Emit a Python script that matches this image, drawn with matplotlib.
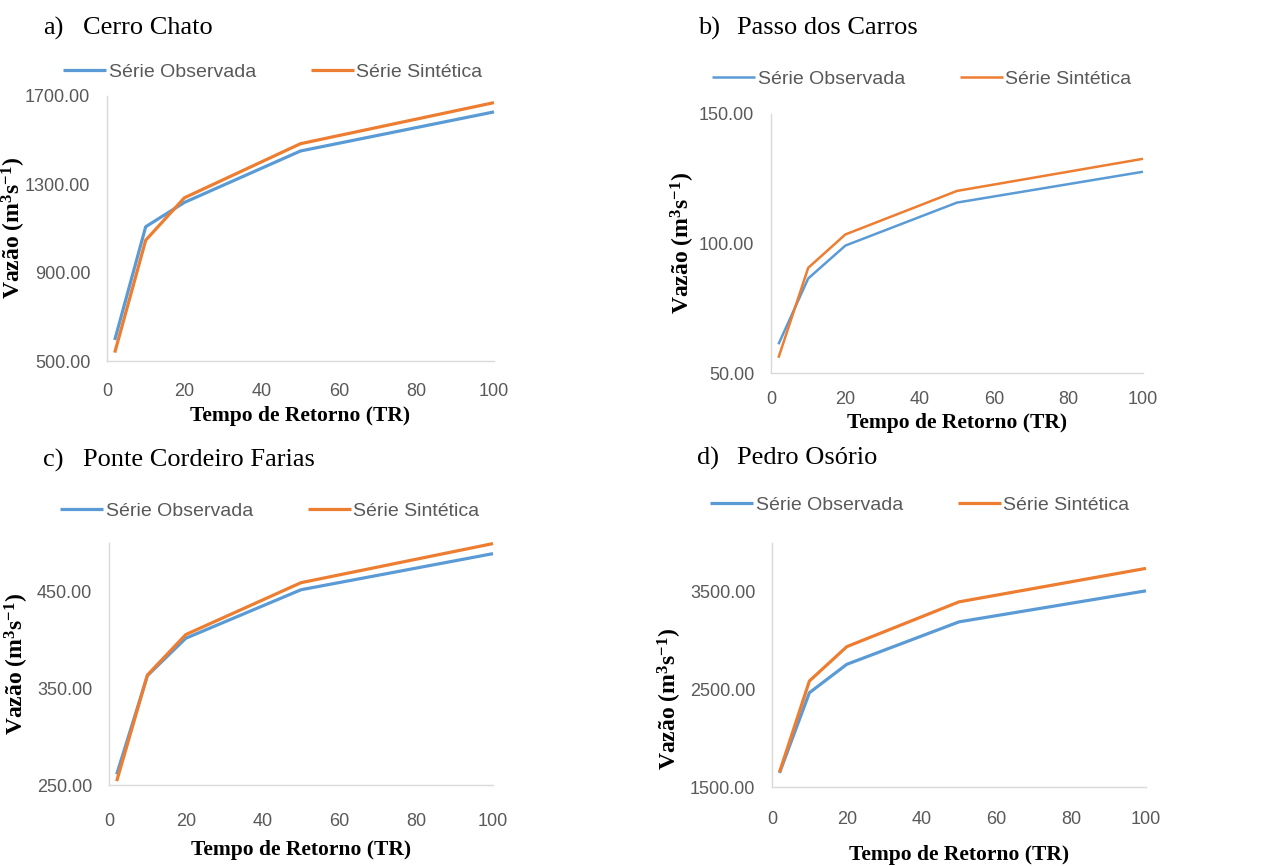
import matplotlib
matplotlib.use('Agg')
import matplotlib.pyplot as plt
from matplotlib import font_manager

# Return period (years)
tr = [2, 10, 20, 50, 100]

# a) Cerro Chato
obs_a = [595, 1108, 1218, 1451, 1628]
sin_a = [538, 1047, 1239, 1484, 1670]
# b) Passo dos Carros
obs_b = [61.1, 86.5, 99.2, 115.8, 127.7]
sin_b = [55.9, 90.6, 103.5, 120.3, 132.7]
# c) Ponte Cordeiro Farias
obs_c = [261, 363, 401.6, 451.7, 489]
sin_c = [254, 363.6, 405.4, 459, 499.4]
# d) Pedro Osório
obs_d = [1644, 2466, 2757, 3192, 3510]
sin_d = [1650, 2586, 2938, 3397, 3740]

letters = ['a)', 'b)', 'c)', 'd)']
stations = ['Cerro Chato', 'Passo dos Carros', 'Ponte Cordeiro Farias', 'Pedro Osório']
series_names = ['Série Observada', 'Série Sintética']
yticks_all = [[500, 900, 1300, 1700], [50, 100, 150], [250, 350, 450], [1500, 2500, 3500]]
ylims = [(500, 1700), (50, 150), (250, 500), (1500, 4000)]
xticks = [0, 20, 40, 60, 80, 100]

names = {f.name for f in font_manager.fontManager.ttflist}
sans = 'Liberation Sans Narrow' if 'Liberation Sans Narrow' in names else 'Liberation Sans'
serif = 'Liberation Serif'

plt.rcParams['mathtext.default'] = 'regular'

W, H = 1280, 866
fig = plt.figure(figsize=(W / 100, H / 100), dpi=100)

def fx(px):
    return px / W

def fy(py):
    return 1 - py / H

# layout in pixels: left, right, top, bottom of plot area
boxes = [(107, 494, 96, 361), (771, 1143, 114, 373), (109, 493, 543, 785), (772, 1146, 543, 787)]
title_pos = [(43, 83, 28), (698, 737, 28), (43, 83, 460), (697, 737, 458)]
legend_pos = [(273, 72), (922, 79), (270, 511), (920, 505)]
ylabel_pos = [(14, 0.5), (683, 0.5), (17, 0.5), (670, 0.36)]
xlabel_top = [45, 40, 55, 58]
xtick_pad = [17, 14, 21, 18]
lws = [2.3, 1.8, 2.3, 2.3]

blue = '#5b9bd5'
orange = '#ed7d31'
grey = '#595959'

data = [(obs_a, sin_a), (obs_b, sin_b), (obs_c, sin_c), (obs_d, sin_d)]

for i, (obs, sin) in enumerate(data):
    l, r, t, b = boxes[i]
    ax = fig.add_axes([fx(l), fy(b), (r - l) / W, (b - t) / H])
    ax.plot(tr, obs, color=blue, lw=lws[i], label=series_names[0], clip_on=False,
            solid_capstyle='butt')
    ax.plot(tr, sin, color=orange, lw=lws[i], label=series_names[1], clip_on=False,
            solid_capstyle='butt')
    ax.set_xlim(0, 100)
    ax.set_ylim(*ylims[i])
    ax.set_xticks(xticks)
    ax.set_yticks(yticks_all[i])
    ax.set_yticklabels(['%.2f' % v for v in yticks_all[i]])
    for s in ['top', 'right']:
        ax.spines[s].set_visible(False)
    for s in ['left', 'bottom']:
        ax.spines[s].set_color('#d9d9d9')
        ax.spines[s].set_linewidth(1.0)
    ax.tick_params(axis='both', length=0, labelcolor=grey, labelsize=13)
    ax.tick_params(axis='x', pad=xtick_pad[i] - 1)
    ax.tick_params(axis='y', pad=12)
    for lab in ax.get_xticklabels() + ax.get_yticklabels():
        lab.set_family(sans)

    ax.set_xlabel('Tempo de Retorno (TR)', family=serif, fontweight='bold', fontsize=15.5)
    ax.xaxis.set_label_coords(0.5, -xlabel_top[i] / (b - t))
    ax.xaxis.label.set_va('top')

    ax.set_ylabel('Vazão (m$^{3}$s$^{-1}$)', family=serif, fontweight='bold', fontsize=17)
    yx, yfrac = ylabel_pos[i]
    ax.yaxis.set_label_coords((yx - l) / (r - l), yfrac)
    ax.yaxis.label.set_va('center')

    lx, ly = legend_pos[i]
    ax.legend(loc='center', bbox_to_anchor=(fx(lx), fy(ly)), bbox_transform=fig.transFigure,
              ncol=2, frameon=False, handlelength=2.2, handletextpad=0.15,
              columnspacing=2.8, borderpad=0, labelcolor=grey,
              prop={'family': sans, 'size': 14})

    ax_x, nm_x, ty = title_pos[i]
    fig.text(fx(ax_x), fy(ty), letters[i], family=serif, fontsize=19, va='center', ha='left')
    fig.text(fx(nm_x), fy(ty), stations[i], family=serif, fontsize=19, va='center', ha='left')

fig.savefig('out.png', dpi=100)
